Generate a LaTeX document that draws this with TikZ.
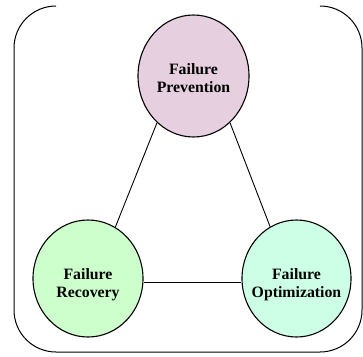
\documentclass[tikz,border=0pt]{standalone}
\usepackage{fontspec}
\setmainfont{Liberation Serif}
\usetikzlibrary{shapes.geometric,calc}
\definecolor{prevfill}{HTML}{E6D0E0}
\definecolor{recfill}{HTML}{CCFFCC}
\definecolor{optfill}{HTML}{CCFFE6}
\begin{document}
\begin{tikzpicture}[x=1pt,y=-1pt,
  phase/.style={ellipse, draw=black, line width=1.1pt, inner sep=0pt},
  phasetext/.style={align=center, inner sep=0pt,
    font=\fontsize{15.8}{18}\selectfont\bfseries},
  link/.style={draw=black, line width=0.9pt}]
  \useasboundingbox (0,0) rectangle (363,356);
  % outer frame, open along the top between its rounded corners
  \draw[line width=1pt, rounded corners=42pt]
    (56,6) -- (14,6) -- (14,352) -- (362,352) -- (362,6) -- (320,6);
  % the three phases
  \node[phase, fill=prevfill, minimum width=111pt, minimum height=122pt] (prev) at (193.5,76) {};
  \node[phase, fill=recfill, minimum width=110pt, minimum height=117pt] (rec) at (88,278.5) {};
  \node[phase, fill=optfill, minimum width=109pt, minimum height=117pt] (opt) at (296.5,278.5) {};
  \node[phasetext] (prevlabel) at ($(prev.center)+(0,2)$) {Failure\\Prevention};
  \node[phasetext] (reclabel) at ($(rec.center)+(0,6)$) {Failure\\Recovery};
  \node[phasetext] (optlabel) at ($(opt.center)+(0,6)$) {Failure\\Optimization};
  % links between the phases
  \draw[link] (prev.-128) -- (rec.62);
  \draw[link] (prev.-52) -- (opt.117);
  \draw[link] (rec.east |- 0,282) -- (opt.west |- 0,282);
\end{tikzpicture}
\end{document}
